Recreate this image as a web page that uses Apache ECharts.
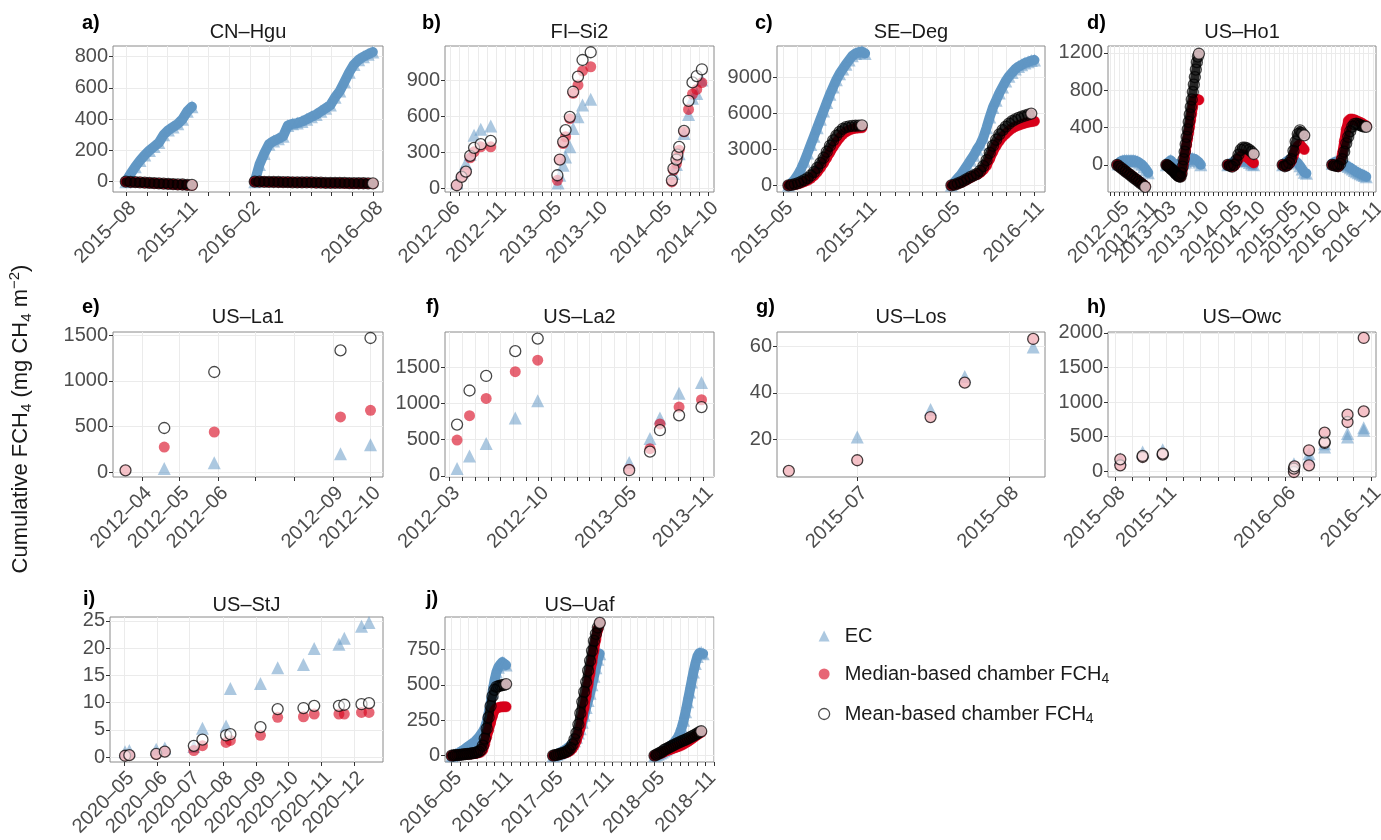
<!DOCTYPE html>
<html><head><meta charset="utf-8">
<script src="https://cdn.jsdelivr.net/npm/echarts@6/dist/echarts.min.js"></script>
<style>html,body{margin:0;padding:0;background:#fff}#c{width:1381px;height:840px}</style>
</head><body><div id="c"></div>
<script>
// ===================== DATA =====================
// Sparse series: [date, cumulative FCH4]
// Dense series: segments [startDate, stepDays, [values...]]

// a) CN-Hgu
const a_xLabels = ['2015-08','2015-11','2016-02','2016-08'];
const a_yTicks = [0,200,400,600,800];
const a_ec = [
  ['2015-08-01',7,[0,50,95,135,170,200,225,250,300,330,350,370,400,450,480]],
  ['2016-02-08',7,[0,110,180,240,260,275,290,360,370,375,385,400,415,430,450,470,490,540,580,640,700,750,780,800,815,830]]];
const a_med = [
  ['2015-08-01',7,[0,-2,-4,-5,-7,-9,-10,-12,-14,-15,-17,-19,-20,-22,-23]],
  ['2016-02-08',7,[0,-1,-1,-2,-2,-3,-3,-4,-4,-5,-5,-6,-6,-7,-7,-8,-8,-9,-9,-10,-10,-11,-11,-12,-12,-13]]];
const a_mean = [
  ['2015-08-01',7,[0,-2,-3,-5,-6,-8,-9,-11,-12,-14,-15,-17,-18,-20,-21]],
  ['2016-02-08',7,[0,0,-1,-1,-2,-2,-3,-3,-4,-4,-4,-5,-5,-6,-6,-7,-7,-7,-8,-8,-9,-9,-10,-10,-11,-11]]];

// b) FI-Si2
const b_xLabels = ['2012-06','2012-11','2013-05','2013-10','2014-05','2014-10'];
const b_yTicks = [0,300,600,900];
const b_ec = [['2012-06-23',47],['2012-07-09',138],['2012-07-23',208],['2012-08-06',285],['2012-08-19',443],['2012-09-10',493],['2012-10-13',518],
  ['2013-05-23',47],['2013-05-29',111],['2013-06-09',194],['2013-06-17',263],['2013-07-01',346],['2013-07-12',499],['2013-07-28',595],['2013-08-12',692],['2013-09-08',740],
  ['2014-06-08',125],['2014-06-18',200],['2014-06-27',290],['2014-07-13',457],['2014-07-28',615],['2014-08-10',748],['2014-08-24',789],['2014-09-10',900]];
const b_med = [['2012-06-23',28],['2012-07-09',97],['2012-07-23',136],['2012-08-06',255],['2012-08-19',305],['2012-09-10',346],['2012-10-13',346],
  ['2013-05-21',69],['2013-05-29',241],['2013-06-09',374],['2013-06-17',430],['2013-07-01',580],['2013-07-12',790],['2013-07-28',858],['2013-08-12',975],['2013-09-08',1010],
  ['2014-06-03',55],['2014-06-08',152],['2014-06-18',208],['2014-06-21',263],['2014-06-27',318],['2014-07-13',471],['2014-07-28',656],['2014-08-10',784],['2014-08-24',822],['2014-09-10',878]];
const b_mean = [['2012-06-23',28],['2012-07-09',97],['2012-07-23',141],['2012-08-06',271],['2012-08-19',338],['2012-09-10',368],['2012-10-13',396],
  ['2013-05-21',111],['2013-05-29',241],['2013-06-09',388],['2013-06-17',485],['2013-07-01',595],['2013-07-12',803],['2013-07-28',928],['2013-08-12',1066],['2013-09-08',1130],
  ['2014-06-03',69],['2014-06-08',166],['2014-06-18',241],['2014-06-21',282],['2014-06-27',346],['2014-07-13',479],['2014-07-28',728],['2014-08-10',880],['2014-08-24',933],['2014-09-10',989]];

// c) SE-Deg
const c_xLabels = ['2015-05','2015-11','2016-05','2016-11'];
const c_yTicks = [0,3000,6000,9000];
const c_ec = [
  ['2015-05-13',7,[0,200,500,900,1400,2000,2700,3400,4100,4800,5500,6200,6900,7600,8200,8800,9300,9700,10100,10450,10800,11000,11100,11150,11000]],
  ['2016-05-04',7,[0,300,600,900,1300,1700,2100,2500,3000,3400,4000,4800,5700,6500,7100,7700,8200,8700,9100,9400,9700,9900,10050,10200,10300,10400,10450]]];
const c_med = [
  ['2015-05-13',7,[0,20,60,120,200,300,420,580,800,1100,1450,1850,2300,2750,3200,3600,3950,4250,4450,4600,4700,4750,4780,4800]],
  ['2016-05-04',7,[0,50,120,220,350,500,650,780,900,1050,1300,1650,2200,2800,3300,3700,4050,4300,4550,4750,4900,5000,5100,5180,5250,5300,5350]]];
const c_mean = [
  ['2015-05-13',7,[0,40,100,190,300,430,600,820,1100,1450,1850,2300,2800,3300,3750,4150,4450,4700,4850,4920,4950,4970,4980,5000]],
  ['2016-05-04',7,[0,60,150,270,400,550,700,830,950,1200,1600,2100,2700,3300,3800,4250,4600,4900,5150,5350,5500,5620,5730,5820,5900,5980]]];

// d) US-Ho1
const d_xLabels = ['2012-05','2012-11','2013-03','2013-10','2014-05','2014-10','2015-05','2015-10','2016-04','2016-11'];
const d_yTicks = [0,400,800,1200];
const d_ec = [
  ['2012-04-23',14,[10,35,45,50,50,50,50,50,45,35,20,5,-20,-50,-85]],
  ['2013-03-02',14,[0,30,50,20,10,0,5,10,20,30,50,70,70,65,50,30,0]],
  ['2014-04-04',14,[0,10,25,35,45,50,55,55,50,40,25,10,0]],
  ['2015-03-26',14,[0,20,40,55,55,50,40,20,-10,-45,-80,-90]],
  ['2016-02-10',13,[18,25,36,36,30,18,5,-5,-18,-30,-45,-60,-73,-85,-95,-105,-115,-127]]];
const d_med = [
  ['2012-04-17',14,[0,-17,-35,-52,-70,-87,-105,-122,-140,-157,-175,-192,-210,-228]],
  ['2013-03-02',6.6,[0,-7,-15,-25,-35,-45,-55,-65,-75,-88,-100,-110,-120,-125,-127,-100,-40,20,85,150,215,280,345,410,480,550,620,690,700,700,700,700,695]],
  ['2014-04-04',14,[0,-10,-20,-10,20,60,90,110,100,80,60,40,20]],
  ['2015-03-26',14,[0,-15,-10,10,40,100,160,200,218,190,164]],
  ['2016-02-10',13,[0,-5,-12,-18,30,120,250,380,470,490,490,485,475,465,455,445,430,418]]];
const d_mean = [
  ['2012-04-17',14,[0,-18,-36,-54,-72,-90,-108,-126,-144,-162,-180,-198,-216,-236]],
  ['2013-03-02',6.6,[0,-7,-15,-25,-35,-45,-55,-65,-75,-88,-100,-110,-120,-125,-127,-90,-20,60,140,220,300,380,460,540,620,700,780,860,940,1020,1100,1160,1190]],
  ['2014-04-04',14,[0,-10,-20,0,50,110,160,185,185,175,160,140,116]],
  ['2015-03-26',14,[0,-15,-5,20,60,150,250,330,370,340,316]],
  ['2016-02-10',13,[0,-5,-12,-15,10,60,140,230,300,360,410,436,440,435,425,415,410,407]]];

// e) US-La1
const e_xLabels = ['2012-04','2012-05','2012-06','2012-09','2012-10'];
const e_yTicks = [0,500,1000,1500];
const e_ec = [['2012-04-19',37],['2012-05-29',102],['2012-09-07',201],['2012-10-01',300]];
const e_med = [['2012-03-19',18],['2012-04-19',274],['2012-05-29',439],['2012-09-07',604],['2012-10-01',677]];
const e_mean = [['2012-03-19',18],['2012-04-19',483],['2012-05-29',1098],['2012-09-07',1335],['2012-10-01',1471]];

// f) US-La2
const f_xLabels = ['2012-03','2012-10','2013-05','2013-11'];
const f_yTicks = [0,500,1000,1500];
const f_ec = [['2012-03-19',100],['2012-04-18',274],['2012-05-28',448],['2012-08-06',800],['2012-09-29',1038],
  ['2013-05-07',183],['2013-06-26',517],['2013-07-20',800],['2013-09-04',1143],['2013-10-28',1290]];
const f_med = [['2012-03-19',494],['2012-04-18',832],['2012-05-28',1070],['2012-08-06',1440],['2012-09-29',1600],
  ['2013-05-07',91],['2013-06-26',375],['2013-07-20',718],['2013-09-04',951],['2013-10-28',1052]];
const f_mean = [['2012-03-19',709],['2012-04-18',1180],['2012-05-28',1381],['2012-08-06',1724],['2012-09-29',1898],
  ['2013-05-07',78],['2013-06-26',334],['2013-07-20',631],['2013-09-04',837],['2013-10-28',951]];

// g) US-Los
const g_xLabels = ['2015-07','2015-08'];
const g_yTicks = [20,40,60];
const g_ec = [['2015-07-01',21],['2015-07-16',32.8],['2015-07-23',47],['2015-08-06',59.7]];
const g_med = [['2015-06-17',6.4],['2015-07-01',11],['2015-07-16',29.6],['2015-07-23',44.4],['2015-08-06',63.2]];
const g_mean = [['2015-06-17',6.4],['2015-07-01',11],['2015-07-16',29.6],['2015-07-23',44.4],['2015-08-06',63.2]];

// h) US-Owc
const h_xLabels = ['2015-08','2015-11','2016-06','2016-11'];
const h_yTicks = [0,500,1000,1500,2000];
const h_ec = [['2015-08-10',183],['2015-09-19',280],['2015-10-25',313],['2016-06-16',111],['2016-07-13',183],['2016-07-13',255],
  ['2016-08-10',352],['2016-08-10',400],['2016-09-20',496],['2016-09-20',545],['2016-10-19',593],['2016-10-19',631]];
const h_med = [['2015-08-10',87],['2015-08-10',173],['2015-09-19',207],['2015-09-19',222],['2015-10-25',241],['2015-10-25',255],
  ['2016-06-16',-10],['2016-06-16',39],['2016-06-17',72],['2016-07-13',87],['2016-07-13',304],['2016-08-10',410],['2016-08-10',424],
  ['2016-08-10',559],['2016-09-20',713],['2016-09-20',819],['2016-10-19',867],['2016-10-19',1928]];
const h_mean = [['2015-08-10',87],['2015-08-10',173],['2015-09-19',207],['2015-09-19',222],['2015-10-25',241],['2015-10-25',255],
  ['2016-06-16',-10],['2016-06-16',39],['2016-06-17',72],['2016-07-13',87],['2016-07-13',304],['2016-08-10',410],['2016-08-10',424],
  ['2016-08-10',559],['2016-09-20',713],['2016-09-20',819],['2016-10-19',867],['2016-10-19',1928]];

// i) US-StJ
const i_xLabels = ['2020-05','2020-06','2020-07','2020-08','2020-09','2020-10','2020-11','2020-12'];
const i_yTicks = [0,5,10,15,20,25];
const i_ec = [['2020-05-02',1.0],['2020-05-06',1.2],['2020-05-31',1.46],['2020-06-08',1.65],['2020-07-05',1.95],['2020-07-13',5.3],
  ['2020-08-04',5.7],['2020-08-08',12.6],['2020-09-05',13.5],['2020-09-21',16.4],['2020-10-15',17.0],['2020-10-25',19.9],
  ['2020-11-17',20.7],['2020-11-22',21.8],['2020-12-08',24.0],['2020-12-15',24.7]];
const i_med = [['2020-05-02',0.25],['2020-05-06',0.35],['2020-05-31',0.5],['2020-06-08',1.0],['2020-07-05',1.2],['2020-07-13',2.1],
  ['2020-08-04',2.7],['2020-08-08',3.05],['2020-09-05',4.0],['2020-09-21',7.3],['2020-10-15',7.4],['2020-10-25',7.9],
  ['2020-11-17',7.9],['2020-11-22',7.9],['2020-12-08',8.2],['2020-12-15',8.2]];
const i_mean = [['2020-05-02',0.25],['2020-05-06',0.35],['2020-05-31',0.6],['2020-06-08',1.0],['2020-07-05',2.07],['2020-07-13',3.2],
  ['2020-08-04',4.0],['2020-08-08',4.2],['2020-09-05',5.5],['2020-09-21',8.8],['2020-10-15',9.0],['2020-10-25',9.4],
  ['2020-11-17',9.4],['2020-11-22',9.6],['2020-12-08',9.7],['2020-12-15',9.9]];

// j) US-Uaf
const j_xLabels = ['2016-05','2016-11','2017-05','2017-11','2018-05','2018-11'];
const j_yTicks = [0,250,500,750];
const j_ec = [
  ['2016-05-01',7,[0,5,10,15,22,30,40,50,60,70,80,90,100,113,130,150,170,195,240,300,370,450,530,590,625,645,660,655,640]],
  ['2017-05-01',7,[0,5,10,16,23,30,40,50,60,72,85,105,130,160,190,235,285,340,390,440,500,560,620,680,720]],
  ['2018-05-01',7,[0,6,12,18,26,35,45,55,65,77,92,110,130,160,200,250,310,380,450,520,590,650,700,725,730,720]]];
const j_med = [
  ['2016-05-01',7,[0,1,2,3,5,6,8,9,10,11,12,13,15,17,20,25,40,80,130,180,230,280,320,335,340,343,345,345,345]],
  ['2017-05-01',7,[0,2,5,8,11,15,18,22,28,38,52,75,105,150,200,270,340,420,500,580,660,740,820,890,935]],
  ['2018-05-01',7,[0,5,10,15,20,28,33,38,43,48,53,58,63,68,75,82,90,98,107,117,127,137,147,157,165]]];
const j_mean = [
  ['2016-05-01',7,[0,1,3,4,6,7,9,10,12,13,15,17,20,24,28,40,70,120,190,270,350,420,465,485,490,495,498,500,505]],
  ['2017-05-01',7,[0,3,6,10,14,18,23,30,38,55,80,115,160,220,300,380,450,520,600,670,740,810,860,905,938]],
  ['2018-05-01',7,[0,7,14,21,28,40,47,54,61,68,75,82,89,96,102,108,113,120,127,134,141,149,157,165,172]]];

// ===================== HELPERS =====================
const DAY = 86400000;
const FONT = 'Liberation Sans';
const EC_COL = 'rgba(95,150,195,0.65)';
const MED_COL = 'rgba(215,0,25,0.75)';
const MEAN_FILL = 'rgba(255,255,255,0.75)';
const LAST_FILL = '#f8d8dc';
const EC_BAND = 'rgb(98,152,197)';
const MED_BAND = 'rgb(214,0,28)';
const MEAN_BAND = 'rgba(0,0,0,0.85)';

function pts(list){ return list.map(p => [Date.parse(p[0]), p[1]]); }
// dense: points; lastFill marks the final point of each segment with a filled style
function segs(list, lastFill){
  const out = [];
  list.forEach(s => { const t0 = Date.parse(s[0]); const n = s[2].length;
    s[2].forEach((v,k) => { const val = [t0 + k*s[1]*DAY, v];
      out.push(lastFill && k === n-1 ? {value:val, itemStyle:{color:lastFill}} : val); }); });
  return out;
}
// dense: same points, broken between segments, for the band line
function band(list){
  const out = [];
  list.forEach((s, si) => { const t0 = Date.parse(s[0]);
    s[2].forEach((v,k) => out.push([t0 + k*s[1]*DAY, v]));
    if (si < list.length-1) out.push([t0 + s[2].length*s[1]*DAY, null]); });
  return out;
}
function monthVal(s){ const [y,m] = s.split('-').map(Number); return Date.UTC(y, m-1, 1); }
function monthTicks(minMs, maxMs){
  const d = new Date(minMs); const y = d.getUTCFullYear(), m = d.getUTCMonth();
  const out = []; for(let k=0;k<200;k++){ const t = Date.UTC(y, m+k, 1); if(t < minMs) continue; if(t > maxMs) break; out.push(t); }
  return out;
}
function fmtMonth(v){ const d = new Date(v); return d.getUTCFullYear() + '\u2013' + String(d.getUTCMonth()+1).padStart(2,'0'); }

// ===================== LAYOUT =====================
const panels = [
  {tag:'a)', tagX:82,  tagY:23,  title:'CN\u2013Hgu', titleY:32,  box:[113,46,270,146], x:['2015-07-13','2016-08-16'], y:[-66,868],  yT:a_yTicks, xL:a_xLabels, dense:[a_ec,a_med,a_mean]},
  {tag:'b)', tagX:422, tagY:23,  title:'FI\u2013Si2',  titleY:32,  box:[445,46,269,146], x:['2012-05-15','2014-10-20'], y:[-28,1182], yT:b_yTicks, xL:b_xLabels, sparse:[b_ec,b_med,b_mean]},
  {tag:'c)', tagX:755, tagY:23,  title:'SE\u2013Deg',  titleY:32,  box:[777,46,268,146], x:['2015-04-18','2016-11-25'], y:[-557,11619], yT:c_yTicks, xL:c_xLabels, dense:[c_ec,c_med,c_mean]},
  {tag:'d)', tagX:1087,tagY:23,  title:'US\u2013Ho1',  titleY:32,  box:[1108,46,268,146], x:['2012-02-18','2016-11-20'], y:[-291,1273], yT:d_yTicks, xL:d_xLabels, dense:[d_ec,d_med,d_mean]},
  {tag:'e)', tagX:82,  tagY:307, title:'US\u2013La1',  titleY:317, box:[113,332,270,145], x:['2012-03-09','2012-10-11'], y:[-55,1537], yT:e_yTicks, xL:e_xLabels, sparse:[e_ec,e_med,e_mean]},
  {tag:'f)', tagX:426, tagY:307, title:'US\u2013La2',  titleY:317, box:[445,332,269,145], x:['2012-02-19','2013-11-27'], y:[-16,1989], yT:f_yTicks, xL:f_xLabels, sparse:[f_ec,f_med,f_mean]},
  {tag:'g)', tagX:756, tagY:307, title:'US\u2013Los',  titleY:317, box:[777,332,268,145], x:['2015-06-14T14:00:00Z','2015-08-08T10:00:00Z'], y:[3.8,66.2], yT:g_yTicks, xL:g_xLabels, sparse:[g_ec,g_med,g_mean]},
  {tag:'h)', tagX:1087,tagY:307, title:'US\u2013Owc',  titleY:317, box:[1108,332,268,145], x:['2015-07-19','2016-11-10'], y:[-82,2014], yT:h_yTicks, xL:h_xLabels, sparse:[h_ec,h_med,h_mean]},
  {tag:'i)', tagX:83,  tagY:599, title:'US\u2013StJ',  titleY:605, box:[110,617,273,145], x:['2020-04-18','2020-12-28'], y:[-0.9,25.7], yT:i_yTicks, xL:i_xLabels, sparse:[i_ec,i_med,i_mean]},
  {tag:'j)', tagX:426, tagY:599, title:'US\u2013Uaf',  titleY:605, box:[445,617,269,145], x:['2016-04-07','2018-12-01'], y:[-45,979], yT:j_yTicks, xL:j_xLabels, dense:[j_ec,j_med,j_mean]}
];

const grids = [], xAxes = [], yAxes = [], series = [], graphics = [];
panels.forEach((p, i) => {
  const [l,t,w,h] = p.box;
  grids.push({left:l, top:t, width:w, height:h, show:true, backgroundColor:'#fff', borderColor:'#8a8a8a', borderWidth:1, containLabel:false, outerBoundsMode:'none'});
  const xmin = Date.parse(p.x[0]), xmax = Date.parse(p.x[1]);
  xAxes.push({
    type:'value', gridIndex:i, min:xmin, max:xmax,
    axisLine:{show:false, onZero:false},
    axisTick:{show:true, length:4, lineStyle:{color:'#333', width:1}, customValues: monthTicks(xmin, xmax)},
    axisLabel:{customValues: p.xL.map(monthVal), rotate:45, align:'right', verticalAlign:'top', fontSize:20, color:'#4d4d4d', margin:6, fontFamily:FONT, formatter: fmtMonth},
    splitLine:{show:true, lineStyle:{color:'#ebebeb', width:1}}
  });
  yAxes.push({
    type:'value', gridIndex:i, min:p.y[0], max:p.y[1],
    axisLine:{show:false, onZero:false},
    axisTick:{show:true, length:4, lineStyle:{color:'#333', width:1}, customValues: p.yT},
    axisLabel:{customValues: p.yT, fontSize:20, color:'#4d4d4d', margin:5, fontFamily:FONT, formatter: v => String(v)},
    splitLine:{show:true, lineStyle:{color:'#ebebeb', width:1}}
  });
  const common = {xAxisIndex:i, yAxisIndex:i, silent:true};
  if (p.dense) {
    const [ec, med, mean] = p.dense;
    series.push(Object.assign({type:'line', name:'EC band', data:band(ec), showSymbol:false, connectNulls:false,
      lineStyle:{color:EC_BAND, width:10, cap:'round', join:'round'}, z:2}, common));
    series.push(Object.assign({type:'scatter', name:'EC', data:segs(ec), symbol:'triangle', symbolSize:13, itemStyle:{color:EC_COL}, z:2}, common));
    series.push(Object.assign({type:'line', name:'Median band', data:band(med), showSymbol:false, connectNulls:false,
      lineStyle:{color:MED_BAND, width:10, cap:'round', join:'round'}, z:3}, common));
    series.push(Object.assign({type:'scatter', name:'Median', data:segs(med), symbol:'circle', symbolSize:11, itemStyle:{color:MED_COL}, z:3}, common));
    series.push(Object.assign({type:'line', name:'Mean band', data:band(mean), showSymbol:false, connectNulls:false,
      lineStyle:{color:MEAN_BAND, width:9, cap:'round', join:'round'}, z:4}, common));
    series.push(Object.assign({type:'scatter', name:'Mean', data:segs(mean, LAST_FILL), symbol:'circle', symbolSize:11,
      itemStyle:{color:'rgba(0,0,0,0)', borderColor:'rgba(0,0,0,0.9)', borderWidth:1.3}, z:4}, common));
  } else {
    const [ec, med, mean] = p.sparse;
    series.push(Object.assign({type:'scatter', name:'EC', data:pts(ec), symbol:'triangle', symbolSize:13, itemStyle:{color:EC_COL}, z:2}, common));
    series.push(Object.assign({type:'scatter', name:'Median', data:pts(med), symbol:'circle', symbolSize:11, itemStyle:{color:MED_COL}, z:3}, common));
    series.push(Object.assign({type:'scatter', name:'Mean', data:pts(mean), symbol:'circle', symbolSize:11,
      itemStyle:{color:MEAN_FILL, borderColor:'rgba(0,0,0,0.9)', borderWidth:1.3}, z:4}, common));
  }
  graphics.push({type:'text', x:p.tagX, y:p.tagY, style:{text:p.tag, font:'bold 20px "Liberation Sans"', fill:'#000', align:'left', verticalAlign:'middle'}});
  graphics.push({type:'text', x:l + w/2, y:p.titleY, style:{text:p.title, font:'20px "Liberation Sans"', fill:'#1a1a1a', align:'center', verticalAlign:'middle'}});
});

graphics.push({type:'text', x:21, y:419, rotation:Math.PI/2, style:{
  text:'{n|Cumulative FCH}{s|4}{n| (mg CH}{s|4}{n| m}{p|\u22122}{n|)}',
  align:'center', verticalAlign:'middle', fill:'#1a1a1a',
  rich:{
    n:{fontSize:22, fontFamily:FONT, lineHeight:27, verticalAlign:'middle', fill:'#1a1a1a'},
    s:{fontSize:15, fontFamily:FONT, lineHeight:15, verticalAlign:'bottom', fill:'#1a1a1a'},
    p:{fontSize:15, fontFamily:FONT, lineHeight:15, verticalAlign:'top', fill:'#1a1a1a'}
  }}});

const chart = echarts.init(document.getElementById('c'), null, {renderer:'canvas'});
chart.setOption({
  animation:false,
  backgroundColor:'#fff',
  textStyle:{fontFamily:FONT},
  grid:grids, xAxis:xAxes, yAxis:yAxes, series:series, graphic:graphics,
  legend:{
    orient:'vertical', left:813, top:621, itemGap:18, itemWidth:11, itemHeight:11, selectedMode:false,
    data:[
      {name:'EC', icon:'triangle', itemStyle:{color:EC_COL, borderWidth:0}},
      {name:'Median', icon:'circle', itemStyle:{color:MED_COL, borderWidth:0}},
      {name:'Mean', icon:'circle', itemStyle:{color:'rgba(255,255,255,1)', borderColor:'#222', borderWidth:1.3}}],
    formatter: n => n === 'EC' ? '{t|EC}' : (n === 'Median' ? '{t|Median-based chamber FCH}{s|4}' : '{t|Mean-based chamber FCH}{s|4}'),
    textStyle:{fontSize:20, color:'#1a1a1a', fontFamily:FONT,
      rich:{ t:{fontSize:20, lineHeight:24, verticalAlign:'middle', color:'#1a1a1a', fontFamily:FONT, padding:[0,0,0,10]},
             s:{fontSize:14, lineHeight:14, verticalAlign:'bottom', color:'#1a1a1a', fontFamily:FONT} } }
  }
});
</script></body></html>
